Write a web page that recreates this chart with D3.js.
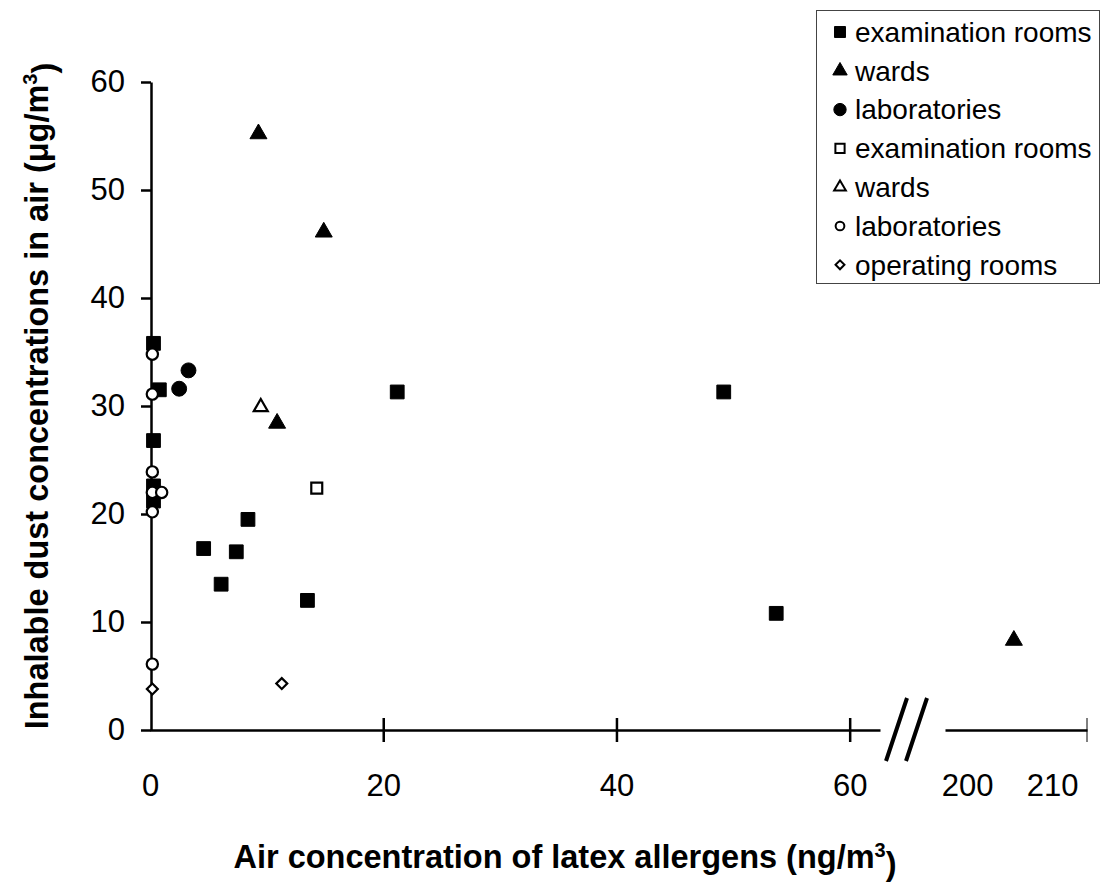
<!DOCTYPE html>
<html>
<head>
<meta charset="utf-8">
<script src="https://cdn.jsdelivr.net/npm/d3@7"></script>
<style>
  body { margin: 0; background: #fff; }
  svg { display: block; font-family: "Liberation Sans", Arial, sans-serif; }
</style>
</head>
<body>
<div id="chart"></div>
<script>
// ---- Data (x: latex allergens ng/m3, y: inhalable dust ug/m3) ----
const examFilled = [[0.3, 35.8], [0.8, 31.5], [0.3, 26.8], [0.3, 22.6], [0.3, 21.2],
    [4.6, 16.8], [6.1, 13.5], [7.4, 16.5], [8.4, 19.5], [13.5, 12.0],
    [21.2, 31.3], [49.2, 31.3], [53.7, 10.8]];
const wardsFilled = [[9.3, 55.2], [14.9, 46.1], [10.9, 28.4]];
const wardsFilledBreak = [[205.5, 8.3]];
const labsFilled = [[2.5, 31.6], [3.3, 33.3]];
const examOpen = [[14.3, 22.4]];
const wardsOpen = [[9.5, 29.9]];
const labsOpen = [[0.2, 34.8], [0.2, 31.1], [0.2, 23.9], [0.2, 22.0], [1.0, 22.0], [0.2, 20.2], [0.2, 6.1]];
const operatingOpen = [[0.2, 3.8], [11.3, 4.3]];

const yTicks = [0, 10, 20, 30, 40, 50, 60];
const xTicks = [0, 20, 40, 60];
const xTicksBreak = [200, 210];
const legendLabels = ["examination rooms", "wards", "laboratories",
    "examination rooms", "wards", "laboratories", "operating rooms"];

const width = 1100, height = 883;

const svg = d3.select("#chart").append("svg")
    .attr("width", width)
    .attr("height", height);

// ---- Scales ----
const x = d3.scaleLinear().domain([0, 62.6]).range([150, 880]);
const xb = d3.scaleLinear().domain([197.4, 214.1]).range([945, 1087]);
const y = d3.scaleLinear().domain([0, 60]).range([730, 82]);

// marker styles
const series = [
    { data: examFilled, type: d3.symbolSquare, size: 190, fill: "#000", sx: x },
    { data: wardsFilled, type: d3.symbolTriangle, size: 125, fill: "#000", sx: x },
    { data: wardsFilledBreak, type: d3.symbolTriangle, size: 125, fill: "#000", sx: xb },
    { data: labsFilled, type: d3.symbolCircle, size: 175, fill: "#000", sx: x },
    { data: examOpen, type: d3.symbolSquare, size: 120, fill: "#fff", sx: x },
    { data: wardsOpen, type: d3.symbolTriangle, size: 85, fill: "#fff", sx: x },
    { data: labsOpen, type: d3.symbolCircle, size: 100, fill: "#fff", sx: x },
    { data: operatingOpen, type: d3.symbolSquare, size: 60, fill: "#fff", sx: x, rot: 45 }
];

// ---- Axes ----
const yAxis = svg.append("g")
    .attr("transform", "translate(151,0)")
    .call(d3.axisLeft(y).tickValues(yTicks).tickSize(10).tickPadding(16).tickSizeOuter(0));

yAxis.selectAll("text").style("font-size", "31px").attr("fill", "#000");

const xAxis = svg.append("g")
    .attr("transform", `translate(0,${y(0)})`)
    .call(d3.axisBottom(x).tickValues(xTicks).tickSizeOuter(0));

xAxis.selectAll(".tick line")
    .attr("y1", -12)
    .attr("y2", 12)
    .attr("display", d => d === 0 ? "none" : null);
xAxis.selectAll("text")
    .attr("y", 66).attr("dy", 0)
    .style("font-size", "31px").attr("fill", "#000");

const xAxisBreak = svg.append("g")
    .attr("transform", `translate(0,${y(0)})`)
    .call(d3.axisBottom(xb).tickValues(xTicksBreak).tickSize(0).tickSizeOuter(0));

xAxisBreak.selectAll("text")
    .attr("y", 66).attr("dy", 0)
    .style("font-size", "31px").attr("fill", "#000");

xAxisBreak.append("line")
    .attr("x1", xb.range()[1])
    .attr("x2", xb.range()[1])
    .attr("y1", -12)
    .attr("y2", 12)
    .attr("stroke", "#000");

svg.selectAll(".domain, .tick line")
    .attr("stroke", "#000")
    .attr("stroke-width", 2.5);

// axis break marks
const breakX = [886, 906];
svg.append("g")
    .selectAll("line")
    .data(breakX)
    .enter()
    .append("line")
    .attr("x1", d => d)
    .attr("y1", y(0) + 31)
    .attr("x2", d => d + 21)
    .attr("y2", y(0) - 32)
    .attr("stroke", "#000")
    .attr("stroke-width", 4);

// ---- Points ----
series.forEach(s => {
    svg.append("g")
        .selectAll("path")
        .data(s.data)
        .enter()
        .append("path")
        .attr("d", d3.symbol().type(s.type).size(s.size))
        .attr("transform", d => `translate(${s.sx(d[0])},${y(d[1])})` + (s.rot ? ` rotate(${s.rot})` : ""))
        .attr("fill", s.fill)
        .attr("stroke", "#000")
        .attr("stroke-width", s.fill === "#fff" ? 2.2 : 1);
});

// ---- Legend ----
const legendItems = [
    { type: d3.symbolSquare, size: 120, fill: "#000" },
    { type: d3.symbolTriangle, size: 90, fill: "#000" },
    { type: d3.symbolCircle, size: 120, fill: "#000" },
    { type: d3.symbolSquare, size: 85, fill: "#fff" },
    { type: d3.symbolTriangle, size: 60, fill: "#fff" },
    { type: d3.symbolCircle, size: 60, fill: "#fff" },
    { type: d3.symbolSquare, size: 40, fill: "#fff", rot: 45 }
];

const legend = svg.append("g");

legend.append("rect")
    .attr("x", 816.5)
    .attr("y", 10.5)
    .attr("width", 283)
    .attr("height", 273)
    .attr("fill", "#fff")
    .attr("stroke", "#444")
    .attr("stroke-width", 1);

const row = legend.selectAll(".row")
    .data(legendItems)
    .enter()
    .append("g")
    .attr("transform", (d, i) => `translate(840,${32 + i * 38.8})`);

row.append("path")
    .attr("d", d => d3.symbol().type(d.type).size(d.size)())
    .attr("transform", d => d.rot ? `rotate(${d.rot})` : null)
    .attr("fill", d => d.fill)
    .attr("stroke", "#000")
    .attr("stroke-width", d => d.fill === "#fff" ? 2 : 1);

row.append("text")
    .attr("x", 15)
    .attr("dy", "0.35em")
    .style("font-size", "28px")
    .text((d, i) => legendLabels[i]);

// ---- Titles ----
const yTitle = svg.append("text")
    .attr("transform", "translate(48,396) rotate(-90)")
    .attr("text-anchor", "middle")
    .style("font-size", "32.5px")
    .style("font-weight", "bold");
yTitle.append("tspan").text("Inhalable dust concentrations in air (μg/m");
yTitle.append("tspan").attr("dy", "-0.55em").style("font-size", "20px").text("3");
yTitle.append("tspan").attr("dy", "0.55em").text(")");

const xTitle = svg.append("text")
    .attr("x", 565)
    .attr("y", 868)
    .attr("text-anchor", "middle")
    .style("font-size", "32.5px")
    .style("font-weight", "bold");
xTitle.append("tspan").text("Air concentration of latex allergens (ng/m");
xTitle.append("tspan").attr("dy", "-0.55em").style("font-size", "20px").text("3");
xTitle.append("tspan").attr("dy", "0.55em").text(")");
</script>
</body>
</html>
